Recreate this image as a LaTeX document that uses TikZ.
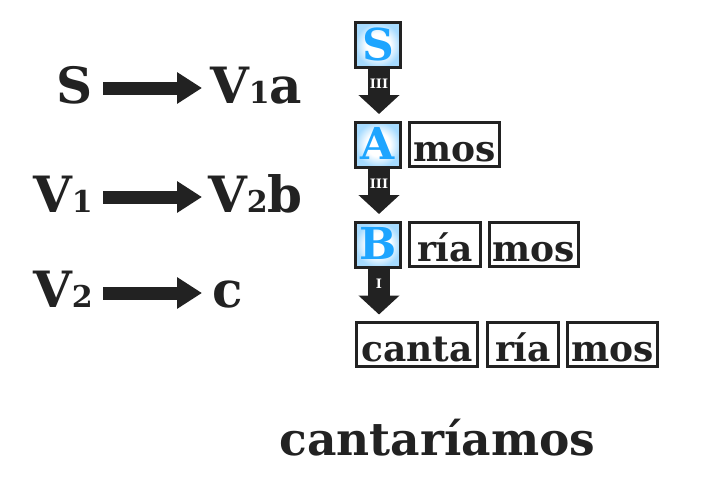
\documentclass[tikz,border=0pt]{standalone}
\usepackage{fontspec}
\setmainfont{DejaVu Serif}
\usetikzlibrary{arrows.meta}
\definecolor{ink}{HTML}{222222}
\definecolor{letterblue}{HTML}{1EA5FF}
\definecolor{glow}{HTML}{A6DBFF}
\pgfdeclareradialshading{boxglow}{\pgfpoint{0bp}{0bp}}{color(0bp)=(white); color(13bp)=(white); color(25bp)=(glow); color(50bp)=(glow)}
\newcommand\fntLeft{\fontsize{50}{50}\selectfont\bfseries}
\newcommand\fntSubd[1]{{\fontsize{30}{30}\selectfont #1}}
\newcommand\fntLetter{\fontsize{44}{44}\selectfont\bfseries}
\newcommand\fntMorph{\fontsize{36}{36}\selectfont\bfseries}
\newcommand\fntWord{\fontsize{45.5}{45.5}\selectfont\bfseries}
\newcommand\fntNum{\fontsize{13}{13}\selectfont\bfseries}
\tikzset{
  letterbox/.style={draw=ink, line width=3pt, shading=boxglow, minimum width=45pt, minimum height=45pt,
    inner sep=0pt, text=letterblue, font=\fntLetter, text height=30pt, text depth=0pt},
  morph/.style={draw=ink, line width=3pt, fill=white, minimum height=44pt, inner sep=0pt,
    text=ink, font=\fntMorph, text height=33pt, text depth=0pt},
  ruletext/.style={inner sep=0pt, text=ink, font=\fntLeft},
  rulearrow/.style={draw=ink, line width=13pt, -{Triangle[width=30pt,length=25pt]}},
  steparrow/.style={draw=ink, line width=22pt, -{Triangle[width=40pt,length=19pt]}},
  steplabel/.style={text=white, font=\fntNum, inner sep=0pt},
}
\begin{document}
\begin{tikzpicture}[x=1pt,y=-1pt]
\useasboundingbox[fill=white] (0,0) rectangle (703,482);
% rules
\node[ruletext, anchor=base east] (L1) at (93,103) {S};
\node[ruletext, anchor=base west] (R1) at (210,103) {V\fntSubd{1}a};
\node[ruletext, anchor=base east] (L2) at (93,212) {V\fntSubd{1}};
\node[ruletext, anchor=base west] (R2) at (208,212) {V\fntSubd{2}b};
\node[ruletext, anchor=base east] (L3) at (93,307) {V\fntSubd{2}};
\node[ruletext, anchor=base west] (R3) at (212,307) {c};
\coordinate (a1s) at (103,88);  \coordinate (a1e) at (202,88);
\coordinate (a2s) at (103,197); \coordinate (a2e) at (202,197);
\coordinate (a3s) at (103,293); \coordinate (a3e) at (202,293);
\draw[rulearrow] (a1s) -- (a1e);
\draw[rulearrow] (a2s) -- (a2e);
\draw[rulearrow] (a3s) -- (a3e);
% derivation
\node[letterbox] (Sb) at (378,45) {S};
\node[letterbox] (Ab) at (378,144.5) {A};
\node[morph, minimum width=90pt] (mos1) at (454.5,144.5) {mos};
\node[letterbox] (Bb) at (378,244.5) {B};
\node[morph, minimum width=71pt] (ria1) at (445,244.5) {ría};
\node[morph, minimum width=89pt] (mos2) at (534,244.5) {mos};
\node[morph, minimum width=121pt] (canta) at (417,344.5) {canta};
\node[morph, minimum width=71pt] (ria2) at (523,344.5) {ría};
\node[morph, minimum width=90pt] (mos3) at (612.5,344.5) {mos};
\draw[steparrow] ([xshift=1pt]Sb.south) -- ([xshift=1pt,yshift=6.5pt]Ab.north)
  node[steplabel, pos=0.33] (n1) {III};
\draw[steparrow] ([xshift=1pt]Ab.south) -- ([xshift=1pt,yshift=6.5pt]Bb.north)
  node[steplabel, pos=0.33] (n2) {III};
\draw[steparrow] ([xshift=1pt]Bb.south) -- ([xshift=1pt,yshift=6.5pt]canta.north -| Bb.south)
  node[steplabel, pos=0.33] (n3) {I};
\node[anchor=base, inner sep=0pt, text=ink, font=\fntWord] (word) at (437.5,455) {cantaríamos};
\end{tikzpicture}
\end{document}
